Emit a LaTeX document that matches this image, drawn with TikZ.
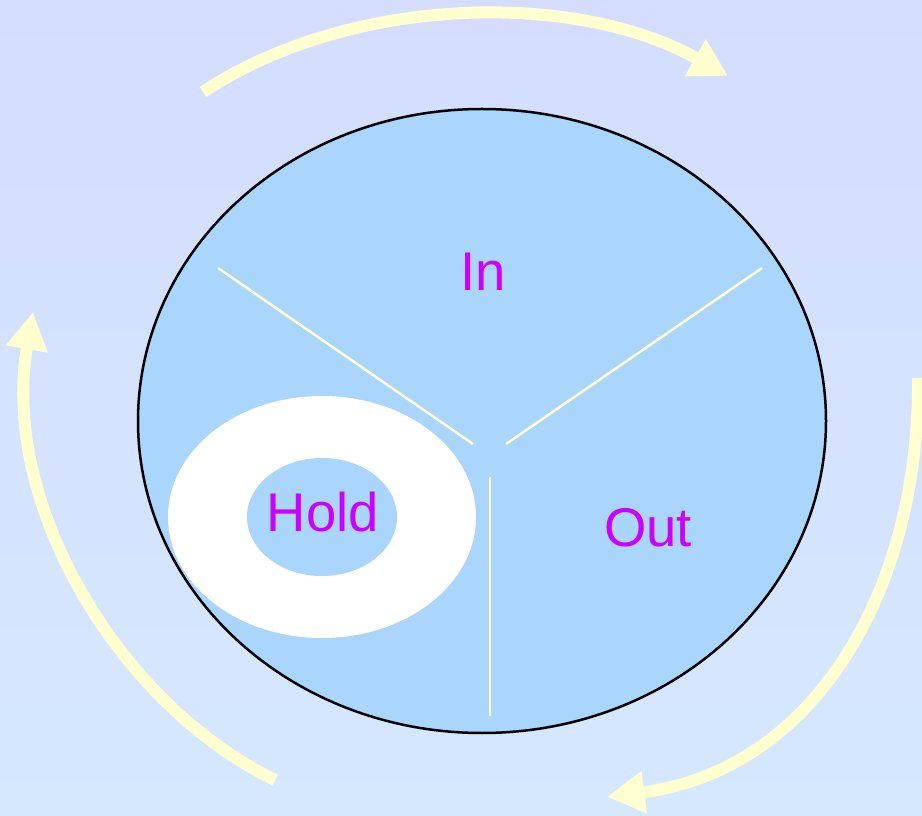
\documentclass[tikz,border=0pt]{standalone}
\usepackage{fontspec}
\setmainfont{Liberation Sans}
\usetikzlibrary{shapes.geometric,arrows.meta}
\definecolor{bgtop}{RGB}{212,221,254}
\definecolor{bgbottom}{RGB}{213,232,254}
\definecolor{cyclefill}{RGB}{170,213,253}
\definecolor{pale}{RGB}{255,255,208}
\definecolor{labelpink}{RGB}{204,0,255}
\begin{document}
\begin{tikzpicture}[x=1cm,y=1cm,
  turn/.style={pale,line width=0.24cm,-{Triangle[width=0.8cm,length=0.75cm]}},
  divider/.style={pale,line width=0.05cm},
  phase/.style={labelpink,font=\fontsize{31}{36}\selectfont}]
\shade[top color=bgtop,bottom color=bgbottom] (0,0) rectangle (18.44,16.3);
\useasboundingbox (0,0) rectangle (18.44,16.3);
\node[ellipse,draw=black,line width=0.05cm,fill=cyclefill,inner sep=0pt,
  minimum width=13.76cm,minimum height=12.48cm] (cycle) at (9.64,7.88) {};
\node[ellipse,fill=white,inner sep=0pt,
  minimum width=6.16cm,minimum height=4.84cm] (ring) at (6.44,5.96) {};
\node[ellipse,fill=cyclefill,inner sep=0pt,
  minimum width=3.0cm,minimum height=2.36cm] (hold) at (6.44,5.96) {};
\draw[divider] (4.36,10.94) -- (9.46,7.42);
\draw[divider] (15.24,10.94) -- (10.12,7.42);
\draw[divider] (9.8,6.76) -- (9.8,1.98);
\node[phase] (in) at (9.66,10.86) {In};
\node[phase] (holdlabel) at (6.46,6.06) {Hold};
\node[phase] (out) at (12.96,5.74) {Out};
\draw[turn] (4.06,14.46) .. controls (7.0,16.4) and (11.5,16.5) .. (14.56,14.78);
\draw[turn] (18.36,8.74) .. controls (18.4,4.5) and (16.3,0.9) .. (12.14,0.36);
\draw[turn] (5.5,0.7) .. controls (2.4,2.2) and (0.0,6.2) .. (0.66,10.06);
\end{tikzpicture}
\end{document}
